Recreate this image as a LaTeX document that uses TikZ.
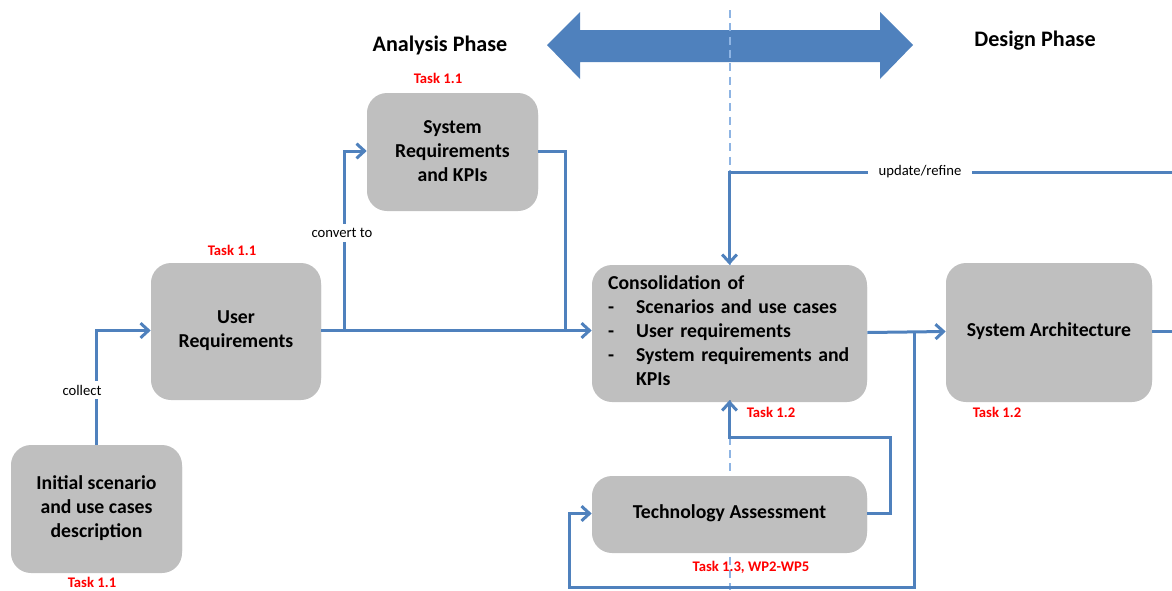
\documentclass[tikz,border=0pt]{standalone}
\usepackage{fontspec}
\setmainfont{Carlito}
\usetikzlibrary{arrows.meta,shadows,calc}
\definecolor{lineblue}{HTML}{4F81BD}
\definecolor{dashblue}{HTML}{8EB4E3}
\definecolor{boxgray}{HTML}{BFBFBF}
\definecolor{taskred}{HTML}{FF0000}
\tikzset{
  box/.style={draw=none, fill=boxgray, rounded corners=15pt, align=center,
    font=\fontsize{14.8}{18}\selectfont\bfseries,
    drop shadow={shadow xshift=0pt, shadow yshift=-1.5pt, opacity=0.25, fill=black}},
  line/.style={draw=lineblue, line width=2.25pt},
  conn/.style={line, -{Straight Barb[length=6pt,width=11pt,line width=2.25pt]}},
  lbl/.style={fill=white, inner sep=3pt, font=\fontsize{11}{13}\selectfont},
  task/.style={text=taskred, font=\fontsize{11}{13}\selectfont\bfseries},
  phase/.style={font=\fontsize{16.6}{20}\selectfont\bfseries},
}
\begin{document}
\begin{tikzpicture}[x=0.75pt,y=-0.75pt]
\useasboundingbox (0,0) rectangle (1172,590);
% phase arrow
\fill[lineblue] (547,45) -- (580,12) -- (580,30) -- (880,30) -- (880,12) -- (913,45)
  -- (880,79) -- (880,62) -- (580,62) -- (580,79) -- cycle;
% dashed divider
\draw[dashblue, line width=1.1pt, dash pattern=on 6pt off 4pt] (730,10) -- (730,590);
% headers
\node[phase] (hana) at (440,45) {Analysis Phase};
\node[phase] (hdes) at (1035,41) {Design Phase};
% boxes
\node[box, minimum width=128.25pt, minimum height=94.5pt] (init) at (96.5,508)
  {Initial scenario\\and use cases\\description};
\node[box, minimum width=127.5pt, minimum height=101.25pt] (user) at (236,330.5)
  {User\\Requirements};
\node[box, minimum width=128.25pt, minimum height=87pt] (sysreq) at (452.5,151)
  {System\\Requirements\\and KPIs};
\node[box, minimum width=206.25pt, minimum height=101.25pt, text width=182pt, inner xsep=12pt, align=left] (consol) at (729.5,332.5)
  {\begin{tabular}{@{}p{21pt}@{}l@{}}\multicolumn{2}{@{}l@{}}{Consolidation of}\\
  -&Scenarios and use cases\\
  -&User requirements\\
  -&System requirements and\\
  &KPIs\end{tabular}};
\node[box, minimum width=206.25pt, minimum height=56.25pt] (tech) at (729.5,513.5)
  {Technology Assessment};
\node[box, minimum width=154.5pt, minimum height=102.75pt] (arch) at (1049,331.5)
  {System Architecture};
% task labels
\node[task] (t1) at (92,582) {Task 1.1};
\node[task] (t2) at (232,250) {Task 1.1};
\node[task] (t3) at (438,78) {Task 1.1};
\node[task] (t4) at (771,412) {Task 1.2};
\node[task] (t5) at (997,412) {Task 1.2};
\node[task] (t6) at (751,567) {Task 1.3, WP2-WP5};
% junction coordinates
\coordinate (j1) at ($(user.east)+(23,0)$);
\coordinate (j2) at ($(user.east -| consol.west)+(-26,0)$);
\coordinate (j3) at ($(consol.east)+(47,0)$);
\coordinate (edgeA) at (1172,331.5);
\coordinate (edgeB) at (1172,172);
% connectors
\draw[conn] (init.north) |- (user.west);
\draw[conn] (user.east) -- (user.east -| consol.west);
\draw[conn] (j1) |- (sysreq.west);
\draw[line] (sysreq.east) -| (j2);
\draw[conn] (consol.east) -- (arch.west);
\draw[conn] (j3) -- ++(0,255) -| ($(tech.west)+(-22,0)$) -- (tech.west);
\draw[conn] (tech.east) -- ++(23,0) |- ($(consol.south)+(0,37)$) -- (consol.south);
\draw[line] (arch.east) -- (edgeA);
\draw[conn] (edgeB) -| (consol.north);
% connector labels
\node[lbl] (lcollect) at (82,390) {collect};
\node[lbl] (lconvert) at (342,233) {convert to};
\node[lbl, inner xsep=8pt] (lupdate) at (920,172) {update/refine};
\end{tikzpicture}
\end{document}
